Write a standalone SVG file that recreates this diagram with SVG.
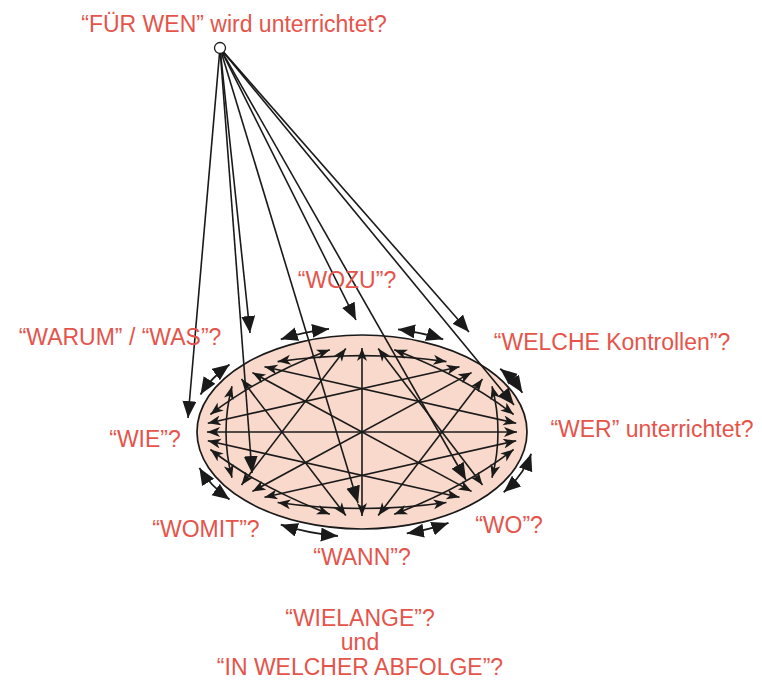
<svg xmlns="http://www.w3.org/2000/svg" width="762" height="684" viewBox="0 0 762 684">
<defs>
<style>
.lbl{font-family:"Liberation Sans",Arial,sans-serif;font-size:23px;fill:#e5544b;text-anchor:middle}
.e{fill:none;stroke:#1a1a1a;stroke-width:1.6;marker-start:url(#sa);marker-end:url(#sa)}
.o{fill:none;stroke:#1a1a1a;stroke-width:1.8;marker-start:url(#ba);marker-end:url(#ba)}
.t{fill:none;stroke:#1a1a1a;stroke-width:1.6;marker-end:url(#ba)}
</style>
<marker id="sa" markerUnits="userSpaceOnUse" markerWidth="14" markerHeight="11" refX="13" refY="5" orient="auto-start-reverse"><path d="M0,0 L13,5 L0,10 L3.5,5 z" fill="#1a1a1a"/></marker>
<marker id="ba" markerUnits="userSpaceOnUse" markerWidth="18" markerHeight="15" refX="17" refY="7" orient="auto-start-reverse"><path d="M0,0 L17,7 L0,14 z" fill="#1a1a1a"/></marker>
</defs>
<rect width="762" height="684" fill="#ffffff"/>
<g id="ellipse"><ellipse cx="362" cy="432" rx="165" ry="97" fill="#f9d9cc" stroke="#1a1a1a" stroke-width="1.7"/></g>
<g id="source"><circle cx="220" cy="48" r="5.5" fill="#ffffff" stroke="#1a1a1a" stroke-width="1.3"/></g>
<g id="connectors">
<path class="e" d="M394.2,349.8 Q464.4,376.5 513.6,414.5"/>
<path class="e" d="M492,386.3 Q504,432 492,477.8"/>
<path class="e" d="M513.6,449.5 Q464.4,487.6 394.2,514.2"/>
<path class="e" d="M446.4,502.5 Q362,514.5 277.6,502.5"/>
<path class="e" d="M329.8,514.2 Q259.6,487.6 210.4,449.5"/>
<path class="e" d="M232,477.8 Q220,432 232,386.3"/>
<path class="e" d="M329.8,349.8 Q259.6,376.4 210.4,414.5"/>
<path class="e" d="M446.4,361.6 Q362,349.6 277.6,361.6"/>
<path class="e" d="M378.2,348.5 L482.5,484.9"/>
<path class="e" d="M482.5,379.1 L378.2,515.5"/>
<path class="e" d="M516.2,440.8 L264.5,497.3"/>
<path class="e" d="M459.5,497.3 L207.8,440.8"/>
<path class="e" d="M345.8,515.5 L241.5,379.1"/>
<path class="e" d="M345.8,348.5 L241.5,484.9"/>
<path class="e" d="M459.5,366.7 L207.8,423.2"/>
<path class="e" d="M516.2,423.2 L264.5,366.7"/>
<path class="e" d="M362,348 L362,516"/>
<path class="e" d="M471.6,372.6 L252.4,491.4"/>
<path class="e" d="M517,432 L207,432"/>
<path class="e" d="M471.6,491.4 L252.4,372.6"/>
<path class="o" d="M280.8,339.3 A173,105 0 0 1 329.0,328.9"/>
<path class="o" d="M398.0,329.3 A173,105 0 0 1 443.2,339.3"/>
<path class="o" d="M500.2,368.8 A173,105 0 0 1 522.4,392.7"/>
<path class="o" d="M531.2,453.8 A173,105 0 0 1 503.7,492.2"/>
<path class="o" d="M448.5,522.9 A173,105 0 0 1 406.8,533.4"/>
<path class="o" d="M337.9,536.0 A173,105 0 0 1 280.8,524.7"/>
<path class="o" d="M229.5,499.5 A173,105 0 0 1 199.4,467.9"/>
<path class="o" d="M200.5,394.4 A173,105 0 0 1 229.5,364.5"/>
<path class="t" d="M219.5,53.5 L188,418"/>
<path class="t" d="M220.6,53.5 L250,333"/>
<path class="t" d="M220.4,53.5 L252,473"/>
<path class="t" d="M221.6,53.3 L358,503"/>
<path class="t" d="M222.5,52.9 L356,320"/>
<path class="t" d="M222.7,52.8 L466,480"/>
<path class="t" d="M223.6,52.1 L469,332"/>
<path class="t" d="M223.5,52.2 L514,405"/>
</g>
<g id="fuer-wen"><text class="lbl" x="234" y="32">“FÜR WEN” wird unterrichtet?</text></g>
<g id="wozu"><text class="lbl" x="347" y="288">“WOZU”?</text></g>
<g id="warum-was"><text class="lbl" x="120" y="345">“WARUM” / “WAS”?</text></g>
<g id="welche"><text class="lbl" x="612" y="350">“WELCHE Kontrollen”?</text></g>
<g id="wie"><text class="lbl" x="145" y="447">“WIE”?</text></g>
<g id="wer"><text class="lbl" x="652" y="437">“WER” unterrichtet?</text></g>
<g id="womit"><text class="lbl" x="206" y="537">“WOMIT”?</text></g>
<g id="wann"><text class="lbl" x="362" y="565">“WANN”?</text></g>
<g id="wo"><text class="lbl" x="509" y="533">“WO”?</text></g>
<g id="wielange"><text class="lbl" x="360" y="626">“WIELANGE”?</text><text class="lbl" x="360" y="650">und</text><text class="lbl" x="360" y="675">“IN WELCHER ABFOLGE”?</text></g>
</svg>
